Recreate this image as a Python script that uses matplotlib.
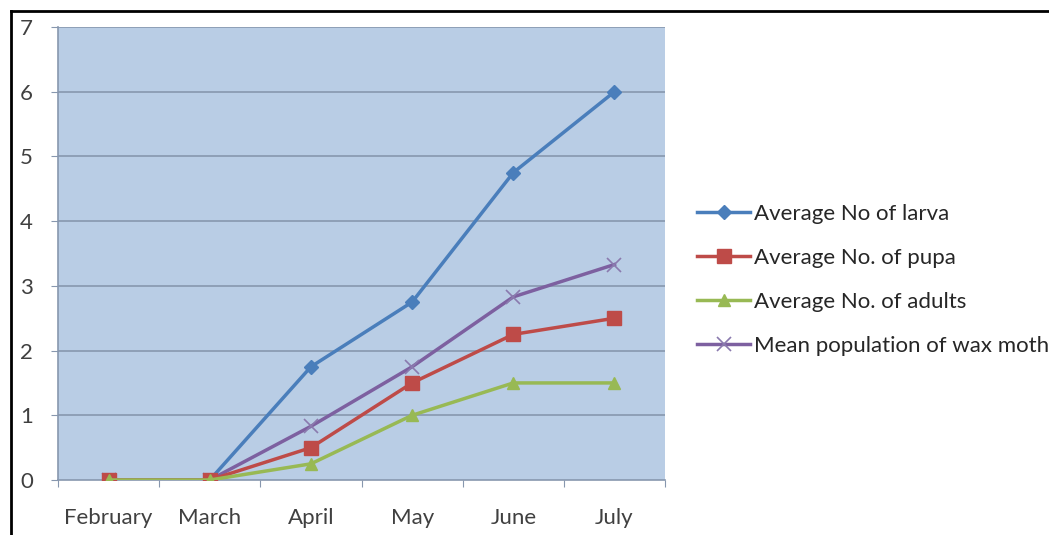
import matplotlib
matplotlib.use("Agg")
import matplotlib.pyplot as plt
from matplotlib.lines import Line2D

months = ["February", "March", "April", "May", "June", "July"]
larva = [0, 0, 1.75, 2.75, 4.75, 6.0]
pupa = [0, 0, 0.5, 1.5, 2.25, 2.5]
adults = [0, 0, 0.25, 1.0, 1.5, 1.5]
mean_pop = [0, 0, 0.83, 1.75, 2.83, 3.33]
labels = ["Average No of larva", "Average No. of pupa",
          "Average No. of adults", "Mean population of wax moth"]

plt.rcParams['font.family'] = ['Lato', 'DejaVu Sans']

fig = plt.figure(figsize=(10.49, 5.35), dpi=100)
ax = fig.add_axes([0.0553, 0.1028, 0.5787, 0.8467])
ax.set_facecolor('#B9CDE5')

x = list(range(len(months)))
grid_c = '#8797AE'
for yv in range(1, 8):
    ax.axhline(yv, color=grid_c, lw=1.2, zorder=1)

h1, = ax.plot(x, larva, color='#4A7EBB', lw=2.5, marker='D', ms=7.5, zorder=5)
h4, = ax.plot(x, mean_pop, color='#7D60A0', lw=2.5, marker='x', ms=10,
              mew=1.2, mec='#8A7AAE', zorder=4)
h2, = ax.plot(x, pupa, color='#BE4B48', lw=2.5, marker='s', ms=10, zorder=6)
h3, = ax.plot(x, adults, color='#98B954', lw=2.5, marker='^', ms=9, zorder=7)

ax.set_xlim(-0.5, 5.5)
ax.set_ylim(0, 7)
ax.set_yticks(range(0, 8))
ax.set_xticks([i - 0.5 for i in range(7)])
ax.set_xticklabels([])
ax.set_xticks(x, minor=True)
ax.set_xticklabels(months, minor=True)
ax.tick_params(axis='x', which='minor', length=0, pad=20, labelsize=16, labelcolor='#404040')
ax.tick_params(axis='x', which='major', length=5, color=grid_c, direction='out')
ax.tick_params(axis='y', length=5, color=grid_c, pad=13, labelsize=16, labelcolor='#404040')

for s in ['top', 'right']:
    ax.spines[s].set_visible(False)
for s in ['left', 'bottom']:
    ax.spines[s].set_color(grid_c)
    ax.spines[s].set_linewidth(1.2)

leg = fig.legend([h1, h2, h3, h4], labels, loc='upper left',
                 bbox_to_anchor=(0.656, 0.636), frameon=False,
                 fontsize=16, handlelength=2.4, handletextpad=0.15,
                 labelspacing=1.08, labelcolor='#262626', borderaxespad=0)

fig.add_artist(Line2D([11/1049, 1.0], [1 - 11/535, 1 - 11/535], color='black', lw=2, transform=fig.transFigure))
fig.add_artist(Line2D([11/1049, 11/1049], [0, 1 - 11/535], color='black', lw=2, transform=fig.transFigure))

fig.savefig('out.png', dpi=100)
